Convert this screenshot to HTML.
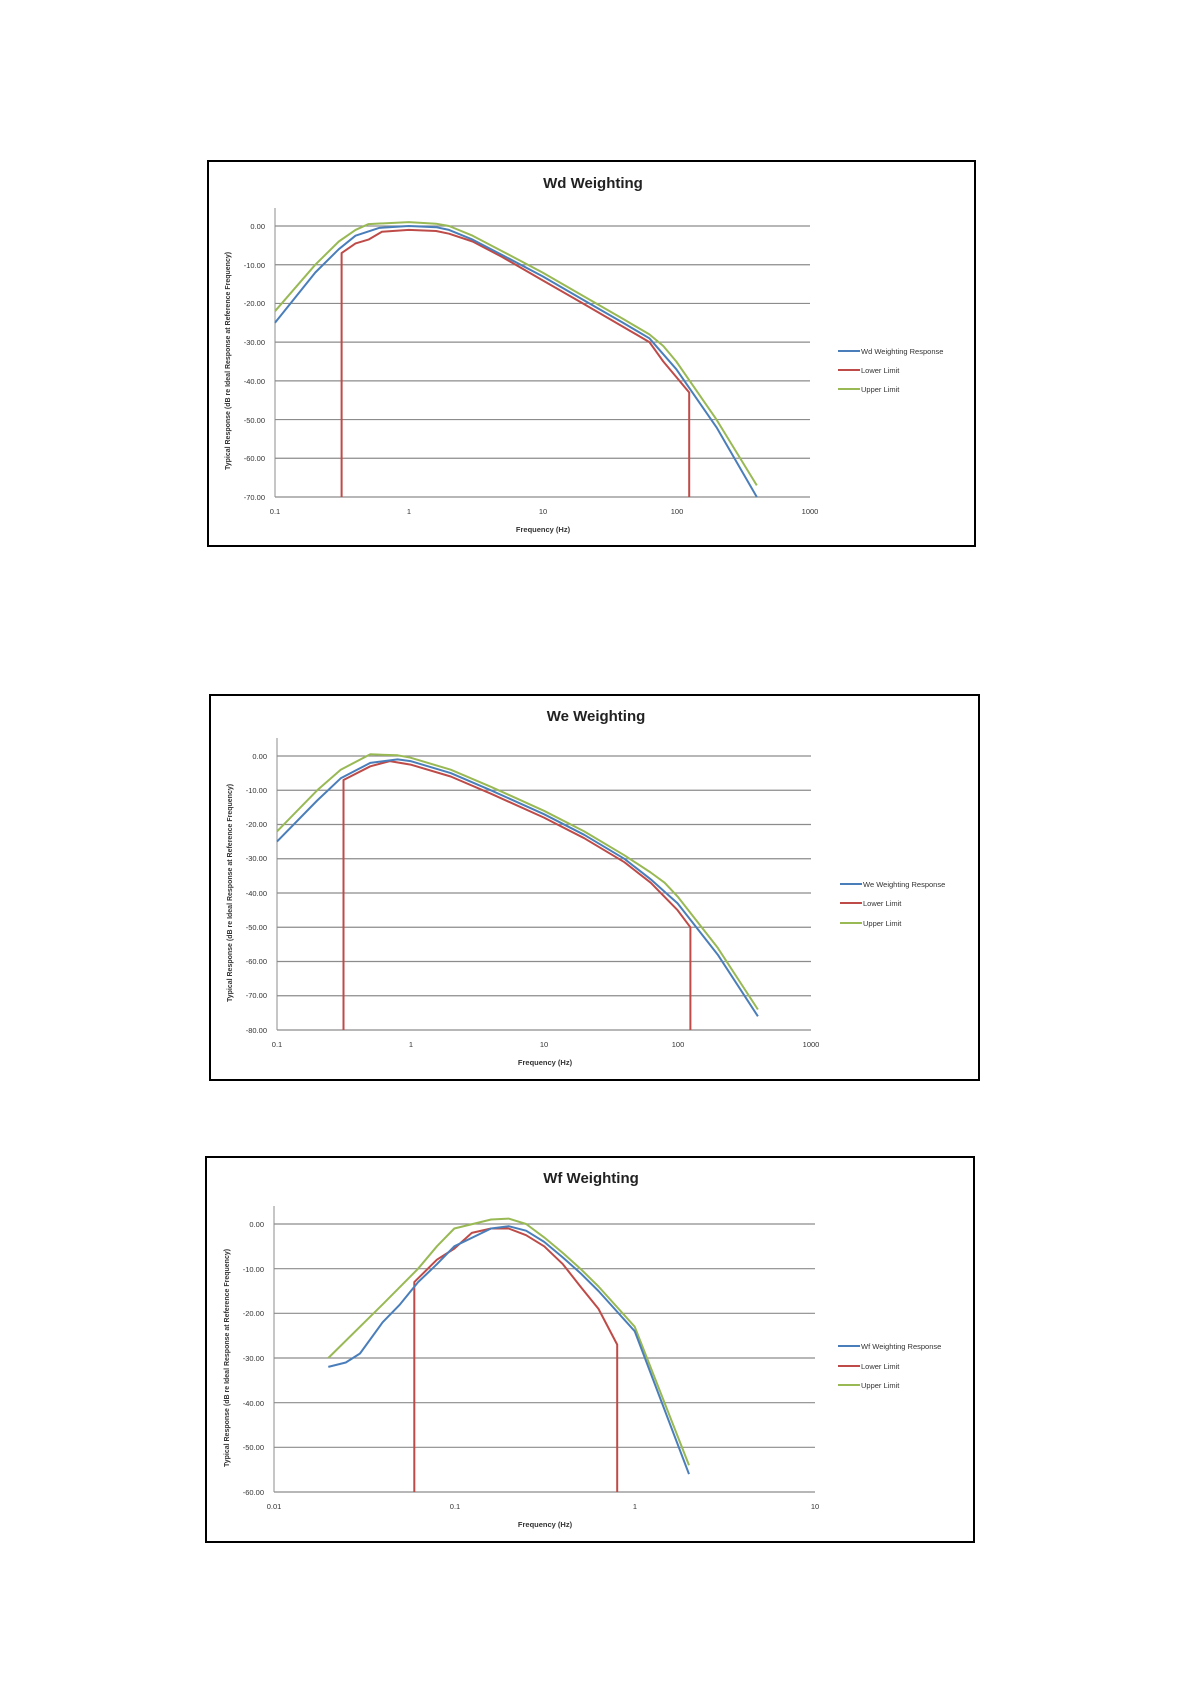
<!DOCTYPE html>
<html><head><meta charset="utf-8"><style>
html,body{margin:0;padding:0;background:#fff;}
svg{display:block;font-family:"Liberation Sans",sans-serif;}
</style></head><body>
<svg id="s" width="1190" height="1684" viewBox="0 0 1190 1684" xmlns="http://www.w3.org/2000/svg">
<rect width="1190" height="1684" fill="#fff"/>
<!-- Chart 1 -->
<rect x="208" y="161" width="767" height="385" fill="#fff" stroke="#000" stroke-width="2"/>
<text x="593" y="188" font-size="15" font-weight="bold" text-anchor="middle" fill="#222">Wd Weighting</text>
<g font-size="7.5" fill="#333" text-anchor="end">
<text x="265" y="229">0.00</text><text x="265" y="268">-10.00</text><text x="265" y="306">-20.00</text><text x="265" y="345">-30.00</text><text x="265" y="384">-40.00</text><text x="265" y="423">-50.00</text><text x="265" y="461">-60.00</text><text x="265" y="500">-70.00</text>
</g>
<g font-size="7.5" fill="#333" text-anchor="middle">
<text x="275" y="514">0.1</text><text x="409" y="514">1</text><text x="543" y="514">10</text><text x="677" y="514">100</text><text x="810" y="514">1000</text>
<text x="543" y="532" font-weight="bold">Frequency (Hz)</text>
</g>
<text transform="translate(230,361) rotate(-90)" font-size="7" font-weight="bold" text-anchor="middle" fill="#333">Typical Response (dB re Ideal Response at Reference Frequency)</text>
<g font-size="7.5" fill="#333">
<line x1="838" y1="351" x2="860" y2="351" stroke="#4a7ebb" stroke-width="2"/><text x="861" y="354">Wd Weighting Response</text>
<line x1="838" y1="370" x2="860" y2="370" stroke="#be4b48" stroke-width="2"/><text x="861" y="373">Lower Limit</text>
<line x1="838" y1="389" x2="860" y2="389" stroke="#98b954" stroke-width="2"/><text x="861" y="392">Upper Limit</text>
</g>
<!-- Chart 2 -->
<rect x="210" y="695" width="769" height="385" fill="#fff" stroke="#000" stroke-width="2"/>
<text x="596" y="721" font-size="15" font-weight="bold" text-anchor="middle" fill="#222">We Weighting</text>
<g font-size="7.5" fill="#333" text-anchor="end">
<text x="267" y="759">0.00</text><text x="267" y="793">-10.00</text><text x="267" y="827">-20.00</text><text x="267" y="861">-30.00</text><text x="267" y="896">-40.00</text><text x="267" y="930">-50.00</text><text x="267" y="964">-60.00</text><text x="267" y="998">-70.00</text><text x="267" y="1033">-80.00</text>
</g>
<g font-size="7.5" fill="#333" text-anchor="middle">
<text x="277" y="1047">0.1</text><text x="411" y="1047">1</text><text x="544" y="1047">10</text><text x="678" y="1047">100</text><text x="811" y="1047">1000</text>
<text x="545" y="1065" font-weight="bold">Frequency (Hz)</text>
</g>
<text transform="translate(232,893) rotate(-90)" font-size="7" font-weight="bold" text-anchor="middle" fill="#333">Typical Response (dB re Ideal Response at Reference Frequency)</text>
<g font-size="7.5" fill="#333">
<line x1="840" y1="884" x2="862" y2="884" stroke="#4a7ebb" stroke-width="2"/><text x="863" y="887">We Weighting Response</text>
<line x1="840" y1="903" x2="862" y2="903" stroke="#be4b48" stroke-width="2"/><text x="863" y="906">Lower Limit</text>
<line x1="840" y1="923" x2="862" y2="923" stroke="#98b954" stroke-width="2"/><text x="863" y="926">Upper Limit</text>
</g>
<!-- Chart 3 -->
<rect x="206" y="1157" width="768" height="385" fill="#fff" stroke="#000" stroke-width="2"/>
<text x="591" y="1183" font-size="15" font-weight="bold" text-anchor="middle" fill="#222">Wf Weighting</text>
<g font-size="7.5" fill="#333" text-anchor="end">
<text x="264" y="1227">0.00</text><text x="264" y="1272">-10.00</text><text x="264" y="1316">-20.00</text><text x="264" y="1361">-30.00</text><text x="264" y="1406">-40.00</text><text x="264" y="1450">-50.00</text><text x="264" y="1495">-60.00</text>
</g>
<g font-size="7.5" fill="#333" text-anchor="middle">
<text x="274" y="1509">0.01</text><text x="455" y="1509">0.1</text><text x="635" y="1509">1</text><text x="815" y="1509">10</text>
<text x="545" y="1527" font-weight="bold">Frequency (Hz)</text>
</g>
<text transform="translate(229,1358) rotate(-90)" font-size="7" font-weight="bold" text-anchor="middle" fill="#333">Typical Response (dB re Ideal Response at Reference Frequency)</text>
<g font-size="7.5" fill="#333">
<line x1="838" y1="1346" x2="860" y2="1346" stroke="#4a7ebb" stroke-width="2"/><text x="861" y="1349">Wf Weighting Response</text>
<line x1="838" y1="1366" x2="860" y2="1366" stroke="#be4b48" stroke-width="2"/><text x="861" y="1369">Lower Limit</text>
<line x1="838" y1="1385" x2="860" y2="1385" stroke="#98b954" stroke-width="2"/><text x="861" y="1388">Upper Limit</text>
</g>
</svg>
<script>
var S=document.getElementById('s'),NS='http://www.w3.org/2000/svg';
function el(t,a){var e=document.createElementNS(NS,t);for(var k in a)e.setAttribute(k,a[k]);S.appendChild(e);return e;}
function chart(c){
 var X=function(f){return c.x0+(Math.log10(f)-Math.log10(c.f0))/(Math.log10(c.f1)-Math.log10(c.f0))*(c.x1-c.x0);};
 var Y=function(d){return c.y0+(-d)/(-c.dmin)*(c.y1-c.y0);};
 for(var d=0;d>=c.dmin;d-=10)el('line',{x1:c.x0,x2:c.x1,y1:Y(d),y2:Y(d),stroke:'#8c8c8c','stroke-width':1.2});
 el('line',{x1:c.x0,x2:c.x0,y1:c.y0-18,y2:c.y1,stroke:'#8c8c8c','stroke-width':1});
 var s=[['lo','#be4b48'],['up','#98b954'],['bl','#4a7ebb']];
 s.forEach(function(p){var pts=c[p[0]].map(function(q){return X(q[0]).toFixed(1)+','+Y(q[1]).toFixed(1);}).join(' ');
  el('polyline',{points:pts,fill:'none',stroke:p[1],'stroke-width':2,'stroke-linejoin':'round'});});
}
chart({x0:275,x1:810,y0:226,y1:497,f0:0.1,f1:1000,dmin:-70,
bl:[[0.1,-25],[0.2,-12],[0.3,-6],[0.4,-2.5],[0.6,-0.5],[1,0],[1.6,-0.3],[2,-1],[3,-3.5],[5,-7.5],[10,-13],[20,-19],[40,-25],[63,-29],[100,-37],[200,-52],[400,-70]],
up:[[0.1,-22],[0.2,-10],[0.3,-4],[0.4,-1],[0.5,0.5],[1,1],[1.6,0.6],[2,0],[3,-2.5],[5,-6.5],[10,-12],[20,-18],[40,-24],[63,-28],[80,-31],[100,-35],[200,-50],[400,-67]],
lo:[[0.315,-70],[0.315,-7],[0.4,-4.5],[0.5,-3.5],[0.63,-1.5],[1,-1],[1.6,-1.3],[2,-2],[3,-4],[5,-8],[10,-14],[20,-20],[40,-26],[63,-30],[80,-35],[100,-39],[125,-43],[125,-70]]});
chart({x0:277,x1:811,y0:756,y1:1030,f0:0.1,f1:1000,dmin:-80,
bl:[[0.1,-25],[0.2,-13],[0.3,-6.5],[0.5,-2],[0.8,-1],[1,-1.5],[2,-5],[4,-10],[10,-17],[20,-23],[40,-30],[63,-36],[100,-43],[200,-58],[400,-76]],
up:[[0.1,-22],[0.2,-10],[0.3,-4],[0.5,0.5],[0.8,0.2],[1,-0.5],[2,-4],[4,-9],[10,-16],[20,-22],[40,-29],[63,-34],[80,-37],[100,-41],[200,-56],[400,-74]],
lo:[[0.315,-80],[0.315,-7],[0.5,-3],[0.7,-1.5],[1,-2.5],[2,-6],[4,-11],[10,-18],[20,-24],[40,-31],[63,-37],[100,-45],[125,-50],[125,-80]]});
chart({x0:274,x1:815,y0:1224,y1:1492,f0:0.01,f1:10,dmin:-60,
bl:[[0.02,-32],[0.025,-31],[0.03,-29],[0.04,-22],[0.05,-18],[0.063,-13],[0.08,-9],[0.1,-5],[0.16,-1],[0.2,-0.5],[0.25,-1.5],[0.315,-4],[0.4,-7.5],[0.5,-11],[0.63,-15],[1,-24],[2,-56]],
up:[[0.02,-30],[0.04,-18],[0.063,-10],[0.08,-5],[0.1,-1],[0.16,1],[0.2,1.2],[0.25,0],[0.315,-3],[0.4,-6.5],[0.5,-10],[0.63,-14],[1,-23],[2,-54]],
lo:[[0.06,-60],[0.06,-13],[0.08,-8],[0.1,-5.5],[0.125,-2],[0.16,-1],[0.2,-1],[0.25,-2.5],[0.315,-5],[0.4,-9],[0.5,-14],[0.63,-19],[0.8,-27],[0.8,-60]]});
</script>
</body></html>
